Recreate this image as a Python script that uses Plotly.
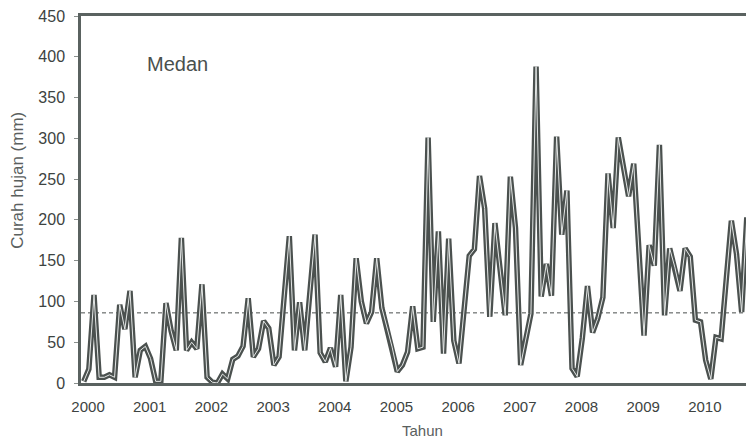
import plotly.graph_objects as go

# Monthly rainfall, Medan, Jan 2000 onward (mm)
rain_mm = [
    2, 17, 108, 7, 7, 10, 7, 96, 66, 113, 7, 40,
    45, 30, 2, 2, 98, 64, 40, 178, 40, 50, 42, 121,
    7, 1, 0, 11, 5, 29, 33, 45, 104, 32, 42, 76,
    67, 22, 32, 105, 180, 40, 99, 40, 110, 182, 37, 26,
    43, 20, 108, 2, 44, 153, 100, 73, 87, 153, 92, 68,
    44, 14, 22, 38, 94, 42, 44, 301, 75, 186, 36, 177,
    52, 24, 90, 156, 164, 254, 214, 81, 196, 142, 83, 253,
    190, 22, 52, 85, 388, 106, 146, 107, 302, 182, 236, 18,
    8, 55, 119, 62, 79, 105, 257, 190, 301, 265, 229, 269,
    160, 58, 169, 144, 292, 83, 165, 142, 113, 165, 155, 77,
    75, 28, 5, 56, 54, 127, 199, 158, 87, 203, 160, 200,
]
months = list(range(len(rain_mm)))
mean_line = 86
years = ["2000", "2001", "2002", "2003", "2004", "2005",
         "2006", "2007", "2008", "2009", "2010"]
y_ticks = [0, 50, 100, 150, 200, 250, 300, 350, 400, 450]

year_pos = [12 * i + 0.84 for i in range(len(years))]

fig = go.Figure()
fig.add_trace(go.Scatter(x=months, y=rain_mm, mode="lines",
                         line=dict(color="#4b514f", width=5.5),
                         hoverinfo="skip", showlegend=False))
fig.add_trace(go.Scatter(x=months, y=rain_mm, mode="lines",
                         line=dict(color="#e4e7e6", width=1.0),
                         hoverinfo="skip", showlegend=False))

fig.add_shape(type="line", xref="paper", x0=0, x1=1, yref="y",
              y0=mean_line, y1=mean_line, layer="below",
              line=dict(color="#4a4f4e", width=1, dash="4px,3px"))

txt = "#3d4341"
fig.update_layout(
    width=746, height=431,
    margin=dict(l=73, r=0, t=5, b=56),
    paper_bgcolor="white", plot_bgcolor="white",
    font=dict(family="Liberation Sans, Arial, sans-serif", color=txt),
    xaxis=dict(range=[-0.53, 130.4], tickvals=year_pos, ticktext=years,
               showgrid=False, zeroline=False, showline=True,
               linecolor="#5a6260", linewidth=2.5, mirror=True,
               ticks="", tickfont=dict(size=15, color=txt),
               ticklabelstandoff=8, ticklabeloverflow="allow"),
    yaxis=dict(range=[0, 450], tickvals=y_ticks,
               showgrid=False, zeroline=False, showline=True,
               linecolor="#5a6260", linewidth=2.5,
               ticks="outside", ticklen=4, tickcolor="#8a908e",
               tickfont=dict(size=16, color=txt),
               ticklabelstandoff=6, ticklabeloverflow="allow"),
    annotations=[
        dict(text="Medan", xref="paper", yref="paper", x=0.144, y=0.87,
             showarrow=False, xanchor="center", yanchor="middle",
             font=dict(size=20, color="#4a504e")),
        dict(text="Curah hujan (mm)", xref="paper", yref="paper",
             x=-0.0936, y=0.551, textangle=-90, showarrow=False,
             xanchor="center", yanchor="middle",
             font=dict(size=17, color="#5a605e")),
        dict(text="Tahun", xref="paper", yref="paper", x=0.508, y=-0.13,
             showarrow=False, xanchor="center", yanchor="middle",
             font=dict(size=15, color="#5a605e")),
    ],
)

fig.write_html("out.html")
